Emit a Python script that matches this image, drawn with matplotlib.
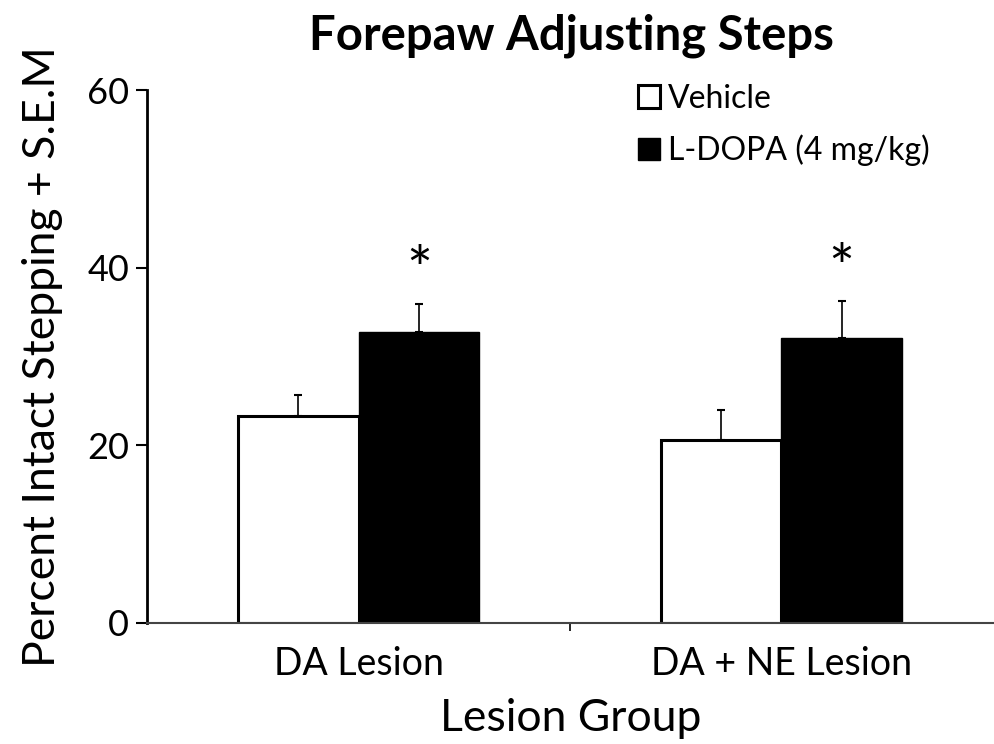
import matplotlib
matplotlib.use("Agg")
import matplotlib.pyplot as plt
import numpy as np

groups = ["DA Lesion", "DA + NE Lesion"]
vehicle = [23.3, 20.6]
vehicle_sem = [2.4, 3.4]
ldopa = [32.8, 32.1]
ldopa_sem = [3.1, 4.1]
series_names = ["Vehicle", "L-DOPA (4 mg/kg)"]
yticks = [0, 20, 40, 60]

plt.rcParams['font.family'] = ['Lato', 'DejaVu Sans']

fig = plt.figure(figsize=(9.95, 7.44), dpi=100)
ax = fig.add_axes([0.148, 0.163, 0.852, 0.716])

x = np.arange(len(groups))
w = 0.285

ax.bar(x - w / 2, vehicle, w, color='white', edgecolor='black', linewidth=2.2,
       label=series_names[0], zorder=2)
ax.bar(x + w / 2, ldopa, w, color='black', edgecolor='black', linewidth=1,
       label=series_names[1], zorder=2)
ax.errorbar(x - w / 2, vehicle, yerr=[np.zeros(2), vehicle_sem], fmt='none',
            ecolor='black', elinewidth=1.2, capsize=3, capthick=1.5, zorder=1)
ax.errorbar(x + w / 2, ldopa, yerr=[np.zeros(2), ldopa_sem], fmt='none',
            ecolor='black', elinewidth=1.2, capsize=3, capthick=1.5, zorder=1)

# significance stars
for xi, m, s in zip(x + w / 2, ldopa, ldopa_sem):
    ax.text(xi, m + s + 3.4, "*", ha='center', va='center', fontsize=44)

ax.set_xlim(-0.5, 1.505)
ax.set_ylim(0, 60)
ax.set_yticks(yticks)
ax.set_xticks(x)
ax.set_xticklabels(groups, fontsize=27)
ax.set_xticks([0.5], minor=True)
ax.tick_params(axis='x', which='major', length=0, pad=17)
ax.tick_params(axis='x', which='minor', length=6, width=1.2, direction='out')
ax.tick_params(axis='y', labelsize=26, length=8, width=1.5, direction='out', pad=5)

for side in ['top', 'right']:
    ax.spines[side].set_visible(False)
ax.spines['left'].set_linewidth(2)
ax.spines['bottom'].set_linewidth(1.5)
ax.spines['bottom'].set_color('#444444')

ax.set_xlabel("Lesion Group", fontsize=32, labelpad=11)
ax.set_ylabel("Percent Intact Stepping + S.E.M", fontsize=32, labelpad=17)
ax.set_title("Forepaw Adjusting Steps", fontsize=34, fontweight='bold', pad=29)

ax.legend(loc='upper left', bbox_to_anchor=(0.545, 1.066), frameon=False,
          fontsize=23, handlelength=0.7, handleheight=0.7, handletextpad=0.25,
          labelspacing=0.65)

fig.savefig("out.png", dpi=100)
